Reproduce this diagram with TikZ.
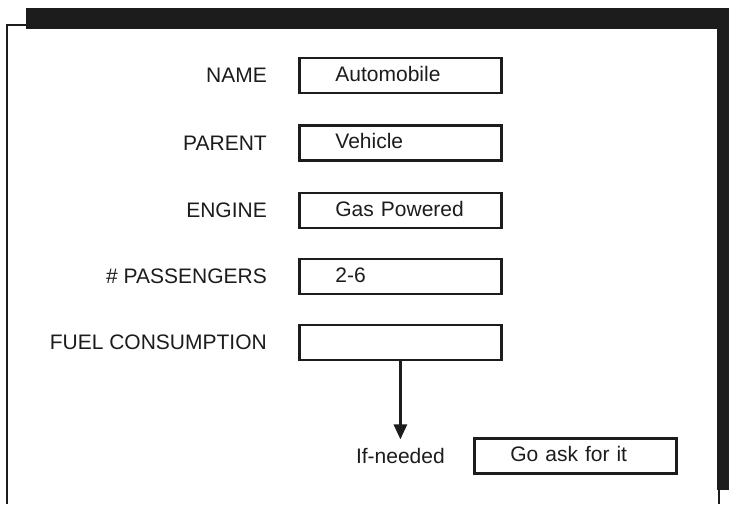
\documentclass[tikz,border=0pt]{standalone}
\usepackage{fontspec}
\setmainfont{Liberation Sans}
\usepackage{tikz}
\usetikzlibrary{arrows.meta, positioning}
\definecolor{ink1}{RGB}{28, 28, 28}

\begin{document}
\begin{tikzpicture}[x=1pt, y=-1pt, font=\fontsize{21}{25}\selectfont,
  slot/.style={draw=ink1, text=ink1, line width=2.8pt, minimum width=202pt, minimum height=35pt,
    text width=130pt, inner xsep=36pt, text height=15pt, text depth=4pt, align=left, anchor=west},
  slotname/.style={text=ink1, inner sep=0pt, left=31pt of #1}]
  \useasboundingbox (0,0) rectangle (729,504);

  % frame
  \fill[ink1] (26,8) rectangle (717,29);
  \fill[ink1] (717,8) rectangle (729,490);
  \draw[ink1, line width=2pt] (718.5,490) -- (718.5,504);
  \draw[ink1, line width=2.5pt] (7,504) -- (7,25) -- (26,25);

  % slots of the frame
  \node[slot] (name) at (298,75.5) {Automobile};
  \node[slot] (parent) at (298,143) {Vehicle};
  \node[slot] (engine) at (298,210.5) {Gas Powered};
  \node[slot] (passengers) at (298,276.5) {2-6};
  \node[slot] (fuel) at (298,342.5) {};

  \node[slotname=name] (namelabel) {NAME};
  \node[slotname=parent] (parentlabel) {PARENT};
  \node[slotname=engine] (enginelabel) {ENGINE};
  \node[slotname=passengers] (passengerslabel) {\# PASSENGERS};
  \node[slotname=fuel] (fuellabel) {FUEL CONSUMPTION};

  % demon
  \node[text=ink1, inner xsep=0pt, inner ysep=9pt, below=78pt of fuel] (ifneeded) {If-needed};
  \node[slot, right=28pt of ifneeded] (goask) {Go ask for it};
  \draw[ink1, line width=2.8pt, -{Triangle[length=15pt, width=13pt]}] (fuel) -- (ifneeded);
\end{tikzpicture}
\end{document}
